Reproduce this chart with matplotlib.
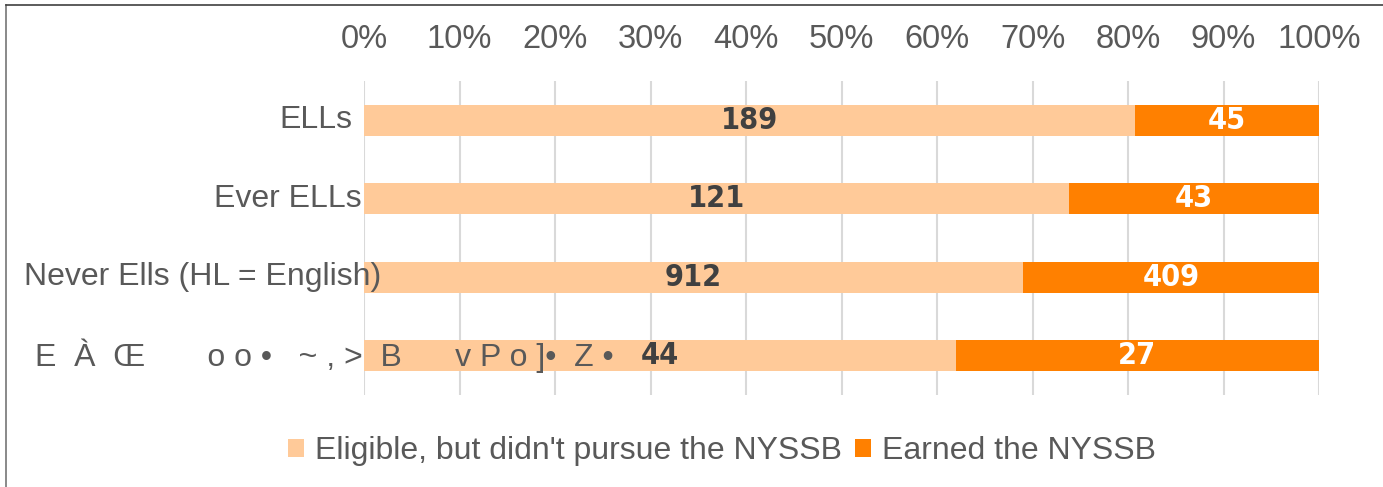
import matplotlib.pyplot as plt
import matplotlib.transforms as mtransforms
from matplotlib.lines import Line2D
from matplotlib.patches import Patch
import numpy as np

garbled = ("E" + "  " + "À" + "  " + "Œ" + "       " + "o" + " " + "o" + " " + "•" + "   "
           + "~" + " " + "," + " " + ">" + "  " + "B" + "      " + "v" + " " + "P" + " "
           + "o" + " " + "]" + "•" + "  " + "Z" + " " + "•")
categories = ["ELLs", "Ever ELLs", "Never Ells (HL = English)", garbled]
not_pursued = [189, 121, 912, 44]
earned = [45, 43, 409, 27]
series_names = ["Eligible, but didn't pursue the NYSSB", "Earned the NYSSB"]
tick_labels = ["0%", "10%", "20%", "30%", "40%", "50%", "60%", "70%", "80%", "90%", "100%"]

light = "#FFCA99"
dark = "#FF8000"
grey = "#595959"

W, H = 1383, 487
fig = plt.figure(figsize=(W / 100, H / 100), dpi=100)
ax = fig.add_axes([364 / W, 1 - 395 / H, (1319 - 364) / W, (395 - 81) / H])

a = np.array(not_pursued, dtype=float)
b = np.array(earned, dtype=float)
tot = a + b
pa = a / tot
pb = b / tot
y = np.arange(len(categories))

ax.barh(y, pa, height=0.4, color=light, zorder=2)
ax.barh(y, pb, left=pa, height=0.4, color=dark, zorder=2)

for i in range(len(y)):
    ax.text(pa[i] / 2, y[i], str(not_pursued[i]), ha="center", va="center",
            fontsize=22, fontweight="bold", fontstretch="condensed", color="#404040",
            family="DejaVu Sans", zorder=3)
    ax.text(pa[i] + pb[i] / 2, y[i], str(earned[i]), ha="center", va="center",
            fontsize=22, fontweight="bold", fontstretch="condensed", color="white",
            family="DejaVu Sans", zorder=3)

ax.set_xlim(0, 1)
ax.set_ylim(len(categories) - 0.5, -0.5)
ax.xaxis.tick_top()
ax.set_xticks(np.linspace(0, 1, len(tick_labels)))
ax.set_xticklabels(tick_labels)
ax.tick_params(axis="x", length=0, pad=19, labelsize=23.5, labelcolor=grey)
for lab in ax.get_xticklabels():
    lab.set_family(["Liberation Sans", "DejaVu Sans"])
ax.set_yticks([])
ax.grid(axis="x", color="#D9D9D9", linewidth=1.5, zorder=0)
for s in ax.spines.values():
    s.set_visible(False)

# category labels, placed by hand like the original
tr = mtransforms.blended_transform_factory(fig.transFigure, ax.transData)
label_x = [352, 362, 381]
for i in range(3):
    ax.text(label_x[i] / W, y[i], categories[i], transform=tr, ha="right", va="center",
            fontsize=23, color=grey, family=["Liberation Sans", "DejaVu Sans"], zorder=4)
ax.text(35 / W, y[3], categories[3], transform=tr, ha="left", va="center",
        fontsize=23, color=grey, family=["Liberation Sans", "DejaVu Sans"], zorder=4)

handles = [Patch(facecolor=light, edgecolor="none"), Patch(facecolor=dark, edgecolor="none")]
fig.legend(handles, series_names, loc="center", bbox_to_anchor=(722 / W, 1 - 451 / H),
           ncol=2, frameon=False, handlelength=0.5, handleheight=0.5, handletextpad=0.35,
           columnspacing=0.4, prop={"family": "Liberation Sans", "size": 23},
           labelcolor=grey)

# outer frame (only left and top visible)
fig.add_artist(Line2D([6 / W, 6 / W], [0, 1 - 5 / H], transform=fig.transFigure,
                      color="#767676", linewidth=1.2))
fig.add_artist(Line2D([6 / W, 1], [1 - 5 / H, 1 - 5 / H], transform=fig.transFigure,
                      color="#404040", linewidth=1.2))

fig.savefig("out.png", dpi=100)
